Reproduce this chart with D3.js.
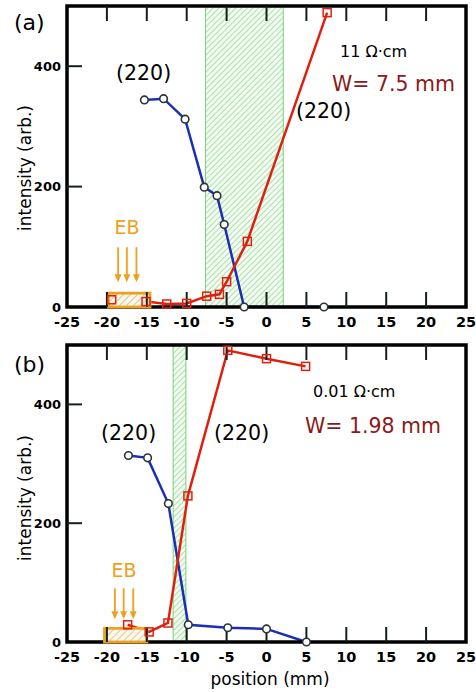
<!DOCTYPE html>
<html>
<head>
<meta charset="utf-8">
<script src="https://cdn.jsdelivr.net/npm/d3@7"></script>
<style>
body { margin: 0; background: #fff; }
text { font-family: "DejaVu Sans", sans-serif; }
</style>
</head>
<body>
<script>
var width = 476, height = 692;

var xTicks = [-25, -20, -15, -10, -5, 0, 5, 10, 15, 20, 25];
var yTicks = [0, 200, 400];

// panel (a) : 11 ohm.cm
var blueA_x = [-15.3, -12.9, -10.2, -7.8, -6.2, -5.3, -2.8, 7.2];
var blueA_y = [344, 346, 312, 199, 185, 137, 0, 0];
var redA_x = [-19.4, -15.1, -12.5, -10, -7.5, -5.9, -5.0, -2.4, 7.6];
var redA_y = [12, 9, 5, 6, 18, 21, 42, 109, 489];
var bandA = [-7.65, 2.1];
var ebA = [-19.8, -14.6];
var arrowsA = [-18.6, -17.5, -16.3];

// panel (b) : 0.01 ohm.cm
var blueB_x = [-17.3, -14.9, -12.3, -9.8, -4.85, 0, 5.0];
var blueB_y = [314, 310, 233, 29, 24, 22, 0];
var redB_x = [-17.4, -14.7, -12.35, -9.85, -4.85, 0, 4.9];
var redB_y = [29, 17, 32, 246, 491, 477, 464];
var bandB = [-11.7, -10.1];
var ebB = [-20.3, -15.0];
var arrowsB = [-19.0, -17.9, -16.7];

var ebTop = 23; // height of the EB box (arb.)

var svg = d3.select("body").append("svg")
    .attr("width", width)
    .attr("height", height);

// hatch patterns
var defs = svg.append("defs");
var pg = defs.append("pattern").attr("id", "hatchGreen")
    .attr("patternUnits", "userSpaceOnUse")
    .attr("width", 4).attr("height", 4)
    .attr("patternTransform", "rotate(45)");
pg.append("rect").attr("width", 4).attr("height", 4).attr("fill", "#f3fbf3");
pg.append("line").attr("x1", 0).attr("y1", 0).attr("x2", 0).attr("y2", 4)
    .attr("stroke", "#8cd68c").attr("stroke-width", 1.4);

var po = defs.append("pattern").attr("id", "hatchEB")
    .attr("patternUnits", "userSpaceOnUse")
    .attr("width", 5).attr("height", 5)
    .attr("patternTransform", "rotate(45)");
po.append("rect").attr("width", 5).attr("height", 5).attr("fill", "#fbf7ea");
po.append("line").attr("x1", 0).attr("y1", 0).attr("x2", 0).attr("y2", 5)
    .attr("stroke", "#c9b878").attr("stroke-width", 1.4);

var x = d3.scaleLinear().domain([-25, 25]).range([67, 466]);

function drawPanel(p) {
    var y = d3.scaleLinear().domain([0, 500]).range([p.bottom, p.top]);
    var g = svg.append("g");

    // green hatched band
    g.append("rect")
        .attr("x", x(p.band[0])).attr("y", p.top)
        .attr("width", x(p.band[1]) - x(p.band[0]))
        .attr("height", p.bottom - p.top)
        .attr("fill", "url(#hatchGreen)")
        .attr("stroke", "#78d078").attr("stroke-width", 1);

    var line = d3.line()
        .x(function(d) { return x(d[0]); })
        .y(function(d) { return y(d[1]); });

    var blue = p.blueX.map(function(v, i) { return [v, p.blueY[i]]; });
    var red = p.redX.map(function(v, i) { return [v, p.redY[i]]; });

    g.append("path").datum(blue).attr("d", line)
        .attr("fill", "none").attr("stroke", "#1c2fb4").attr("stroke-width", 2.5);
    g.append("path").datum(red).attr("d", line)
        .attr("fill", "none").attr("stroke", "#e0200f").attr("stroke-width", 2.5);

    // frame
    g.append("rect")
        .attr("x", x(-25)).attr("y", p.top)
        .attr("width", x(25) - x(-25)).attr("height", p.bottom - p.top)
        .attr("fill", "none").attr("stroke", "#000").attr("stroke-width", 3.5);

    // EB box
    g.append("rect")
        .attr("x", x(p.eb[0])).attr("y", y(ebTop))
        .attr("width", x(p.eb[1]) - x(p.eb[0]))
        .attr("height", y(0) - y(ebTop))
        .attr("fill", "url(#hatchEB)")
        .attr("stroke", "#f0a020").attr("stroke-width", 2.8);

    // inward ticks
    var inner = xTicks.slice(1, -1);
    g.selectAll(".tb").data(inner).enter().append("line")
        .attr("x1", function(d) { return x(d); }).attr("x2", function(d) { return x(d); })
        .attr("y1", p.bottom).attr("y2", p.bottom - 15)
        .attr("stroke", "#15201a").attr("stroke-width", 2);
    g.selectAll(".tt").data(inner).enter().append("line")
        .attr("x1", function(d) { return x(d); }).attr("x2", function(d) { return x(d); })
        .attr("y1", p.top).attr("y2", p.top + 15)
        .attr("stroke", "#15201a").attr("stroke-width", 2);
    g.selectAll(".tl").data(yTicks.slice(1)).enter().append("line")
        .attr("x1", x(-25)).attr("x2", x(-25) + 15)
        .attr("y1", function(d) { return y(d); }).attr("y2", function(d) { return y(d); })
        .attr("stroke", "#15201a").attr("stroke-width", 2);

    // arrows
    var tipY = y(ebTop) - p.arrowGap;
    p.arrows.forEach(function(a) {
        g.append("line")
            .attr("x1", x(a)).attr("x2", x(a))
            .attr("y1", tipY - p.arrowLen).attr("y2", tipY - 6)
            .attr("stroke", "#f0a020").attr("stroke-width", 1.8);
        g.append("path")
            .attr("d", "M" + (x(a) - 3.5) + "," + (tipY - 8) + "L" + (x(a) + 3.5) + "," + (tipY - 8) + "L" + x(a) + "," + tipY + "Z")
            .attr("fill", "#f0a020");
    });
    g.append("text")
        .attr("x", x(d3.mean(p.arrows))).attr("y", p.ebLabelY)
        .attr("text-anchor", "middle")
        .attr("font-size", 19).attr("fill", "#f0a020")
        .text("EB");

    // tick labels
    g.selectAll(".xl").data(xTicks).enter().append("text")
        .attr("x", function(d) { return x(d); })
        .attr("y", p.bottom + 20)
        .attr("text-anchor", "middle")
        .attr("font-family", "Liberation Sans, Arial, sans-serif")
        .attr("font-weight", "bold").attr("font-size", 14.5)
        .text(function(d) { return d; });
    g.selectAll(".yl").data(yTicks).enter().append("text")
        .attr("x", 61)
        .attr("y", function(d) { return y(d); })
        .attr("dy", "0.35em")
        .attr("text-anchor", "end")
        .attr("font-family", "Liberation Sans, Arial, sans-serif")
        .attr("font-weight", "bold").attr("font-size", 13)
        .text(function(d) { return d; });

    // markers
    g.selectAll(".c").data(blue).enter().append("circle")
        .attr("cx", function(d) { return x(d[0]); })
        .attr("cy", function(d) { return y(d[1]); })
        .attr("r", 3.8)
        .attr("fill", "#fff").attr("stroke", "#2b3535").attr("stroke-width", 1.6);
    g.selectAll(".s").data(red).enter().append("rect")
        .attr("x", function(d) { return x(d[0]) - 4; })
        .attr("y", function(d) { return y(d[1]) - 4; })
        .attr("width", 8).attr("height", 8)
        .attr("fill", "none").attr("stroke", "#e0200f").attr("stroke-width", 1.5);

    // y label
    g.append("text")
        .attr("transform", "translate(31," + p.yLabelY + ") rotate(-90)")
        .attr("text-anchor", "middle")
        .attr("font-size", 17)
        .text("intensity (arb.)");

    // annotations
    p.texts.forEach(function(t) {
        g.append("text")
            .attr("x", t.x).attr("y", t.y)
            .attr("font-size", t.size)
            .attr("fill", t.color || "#000")
            .text(t.s);
    });
}

drawPanel({
    top: 6, bottom: 307,
    blueX: blueA_x, blueY: blueA_y, redX: redA_x, redY: redA_y,
    band: bandA, eb: ebA, arrows: arrowsA,
    arrowGap: 11, arrowLen: 35, ebLabelY: 234, yLabelY: 168,
    texts: [
        { s: "(a)", x: 14, y: 30, size: 22 },
        { s: "(220)", x: 116, y: 80, size: 20.5 },
        { s: "(220)", x: 296, y: 118, size: 20.5 },
        { s: "11 \u03A9\u00B7cm", x: 340, y: 57, size: 16 },
        { s: "W= 7.5 mm", x: 332, y: 91, size: 20.5, color: "#8b1a1a" }
    ]
});

drawPanel({
    top: 345, bottom: 642,
    blueX: blueB_x, blueY: blueB_y, redX: redB_x, redY: redB_y,
    band: bandB, eb: ebB, arrows: arrowsB,
    arrowGap: 9, arrowLen: 31, ebLabelY: 577, yLabelY: 498,
    texts: [
        { s: "(b)", x: 14, y: 372, size: 22 },
        { s: "(220)", x: 101, y: 440, size: 20.5 },
        { s: "(220)", x: 214, y: 440, size: 20.5 },
        { s: "0.01 \u03A9\u00B7cm", x: 313, y: 397, size: 16 },
        { s: "W= 1.98 mm", x: 305, y: 433, size: 20.5, color: "#8b1a1a" }
    ]
});

svg.append("text")
    .attr("x", 270).attr("y", 685)
    .attr("text-anchor", "middle")
    .attr("font-size", 17)
    .text("position (mm)");
</script>
</body>
</html>
